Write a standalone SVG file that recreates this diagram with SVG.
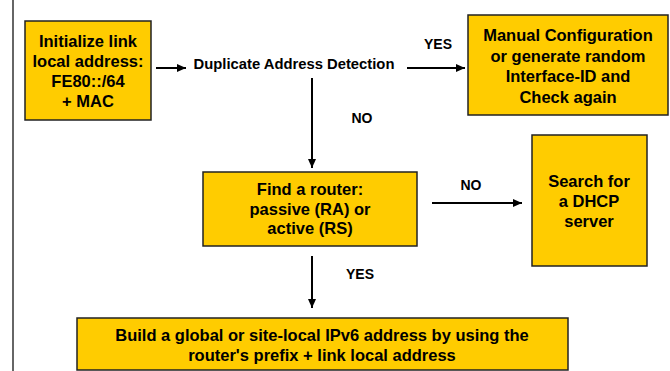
<svg xmlns="http://www.w3.org/2000/svg" width="670" height="371" viewBox="0 0 670 371">
<defs>
<marker id="ah" markerUnits="userSpaceOnUse" markerWidth="10" markerHeight="8" refX="9" refY="4" orient="auto">
<path d="M0,0 L9,4 L0,8 Z" fill="#000"/>
</marker>
<style>
.box{fill:#FFCC00;stroke:#222;stroke-width:1.5}
.t{font-family:"Liberation Sans",Arial,sans-serif;font-weight:bold;font-size:16.5px;fill:#000;text-anchor:middle}
.l{font-family:"Liberation Sans",Arial,sans-serif;font-weight:bold;font-size:14px;fill:#000;text-anchor:middle}
.d{font-size:14.8px}
.c{stroke:#000;stroke-width:2;fill:none;marker-end:url(#ah)}
</style>
</defs>
<rect width="670" height="371" fill="#fff"/>
<line x1="13" y1="0" x2="13" y2="371" stroke="#333" stroke-width="1.5"/>
<g id="init">
<rect class="box" x="25" y="21" width="126" height="99"/>
<text class="t" x="88" y="47">Initialize link</text>
<text class="t" x="88" y="67">local address:</text>
<text class="t" x="88" y="87">FE80::/64</text>
<text class="t" x="88" y="107">+ MAC</text>
</g>
<g id="dad">
<text class="l d" x="294" y="69">Duplicate Address Detection</text>
</g>
<g id="manual">
<rect class="box" x="468" y="15" width="200" height="100"/>
<text class="t" x="568" y="41">Manual Configuration</text>
<text class="t" x="568" y="61.5">or generate random</text>
<text class="t" x="568" y="82">Interface-ID and</text>
<text class="t" x="568" y="102.5">Check again</text>
</g>
<g id="router">
<rect class="box" x="203" y="172" width="214" height="74"/>
<text class="t" x="310" y="195">Find a router:</text>
<text class="t" x="310" y="215">passive (RA) or</text>
<text class="t" x="310" y="234">active (RS)</text>
</g>
<g id="dhcp">
<rect class="box" x="532" y="135" width="115" height="131"/>
<text class="t" x="589" y="187">Search for</text>
<text class="t" x="589" y="207">a DHCP</text>
<text class="t" x="589" y="227">server</text>
</g>
<g id="build">
<rect class="box" x="77" y="318" width="491" height="52"/>
<text class="t" x="322" y="341">Build a global or site-local IPv6 address by using the</text>
<text class="t" x="322" y="361">router's prefix + link local address</text>
</g>
<g id="connectors">
<line class="c" x1="156" y1="68" x2="186" y2="68"/>
<line class="c" x1="407" y1="68" x2="465" y2="68"/>
<line class="c" x1="312" y1="78" x2="312" y2="168"/>
<line class="c" x1="432" y1="203" x2="522" y2="203"/>
<line class="c" x1="312" y1="256" x2="312" y2="308"/>
<text class="l" x="438" y="49">YES</text>
<text class="l" x="362" y="122.5">NO</text>
<text class="l" x="471" y="190">NO</text>
<text class="l" x="360" y="279">YES</text>
</g>
</svg>
